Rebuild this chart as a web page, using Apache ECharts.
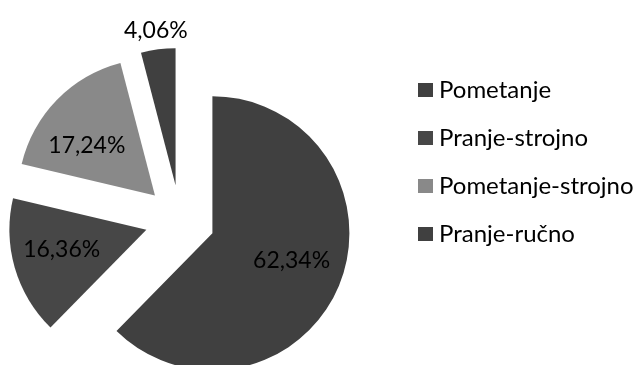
<!DOCTYPE html>
<html>
<head>
<meta charset="utf-8">
<script src="https://cdn.jsdelivr.net/npm/echarts@6/dist/echarts.min.js"></script>
<style>
  html, body { margin: 0; padding: 0; background: #ffffff; }
  #chart { width: 639px; height: 365px; }
</style>
</head>
<body>
<div id="chart"></div>
<script>
// Share of cleaning methods (%)
const categories = ['Pometanje', 'Pranje-strojno', 'Pometanje-strojno', 'Pranje-ručno'];
const shares = [62.34, 16.36, 17.24, 4.06];

// Slice fills, in category order
const sliceColors = ['#404040', '#474747', '#898989', '#404040'];
// Label nudges [dx, dy] relative to the default inside anchor
const labelNudge = [[13, 13], [-16, -5], [-17, 0], [0, 0]];

function paddingFor(n) {
  const dx = n[0], dy = n[1];
  return [dy > 0 ? 2 * dy : 0, dx < 0 ? -2 * dx : 0, dy < 0 ? -2 * dy : 0, dx > 0 ? 2 * dx : 0];
}

const fmt = v => v.toFixed(2).replace('.', ',') + '%';

const pieData = categories.map((name, i) => {
  const item = {
    name: name,
    value: shares[i],
    selected: true,
    itemStyle: { color: sliceColors[i] },
    select: { itemStyle: { color: sliceColors[i] } },
    label: { padding: paddingFor(labelNudge[i]) }
  };
  // the thin slice carries its label just beyond the rim
  if (shares[i] < 5) {
    item.label = { position: 'outside', distanceToLabelLine: -32 };
    item.labelLine = { show: false, length: 19, length2: 0 };
  }
  return item;
});

const chart = echarts.init(document.getElementById('chart'), null, { renderer: 'canvas' });
chart.setOption({
  animation: false,
  backgroundColor: '#ffffff',
  legend: {
    orient: 'vertical',
    left: 413,
    top: 73,
    itemWidth: 15,
    itemHeight: 14,
    itemGap: 24,
    icon: 'rect',
    selectedMode: false,
    data: categories,
    textStyle: {
      fontFamily: 'Lato',
      fontSize: 24,
      lineHeight: 24,
      color: '#000000',
      padding: [0, 0, 0, 1]
    }
  },
  series: [{
    type: 'pie',
    center: [180, 220],
    radius: [0, 137],
    startAngle: 90,
    clockwise: true,
    selectedMode: 'multiple',
    selectedOffset: 35,
    avoidLabelOverlap: false,
    emphasis: { disabled: true },
    label: {
      show: true,
      position: 'inside',
      fontFamily: 'Lato',
      fontSize: 23,
      color: '#000000',
      formatter: p => fmt(p.value)
    },
    labelLine: { show: false },
    data: pieData
  }]
});
</script>
</body>
</html>
